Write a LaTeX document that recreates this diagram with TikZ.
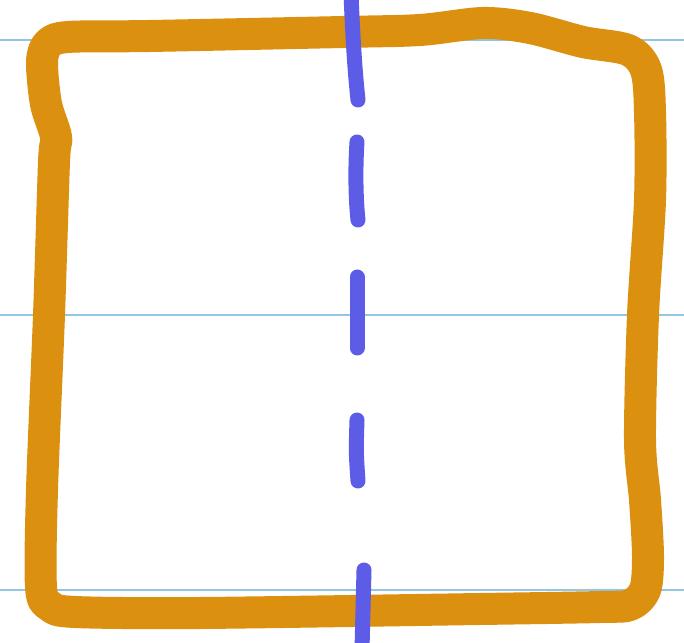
\documentclass[tikz,border=0pt]{standalone}
\usepackage{tikz}
\usepackage{xcolor}
\definecolor{paper}{HTML}{FFFFFF}
\definecolor{ruleblue}{HTML}{93C6E2}
\definecolor{markerorange}{HTML}{DB910F}
\definecolor{penblue}{HTML}{5C5CE6}
\tikzset{
  ruleline/.style={draw=ruleblue, line width=2pt},
  markerbox/.style={draw=markerorange, line width=32pt, line join=round},
  axisdash/.style={draw=penblue, line width=15pt, line cap=round}
}
\begin{document}
\begin{tikzpicture}[x=1pt,y=1pt]
  \useasboundingbox[fill=paper] (0,0) rectangle (684,642);
  % ruled paper lines
  \foreach \yy in {602,327,52}
    \draw[ruleline] (0,\yy) -- (684,\yy);
  % hand drawn square
  \draw[markerbox] plot[smooth cycle, tension=0.5] coordinates {
    (150,606) (343,610) (420,612) (483,619) (530,614) (583,600)
    (628,592) (646,572) (650,530) (650,442) (643,327) (640,202)
    (645,142) (648,85) (645,52) (630,37) (600,35) (480,33)
    (200,29) (75,30) (50,36) (41,55) (42,152) (49,327)
    (54,480) (56,505) (46,538) (42,580) (48,598) (68,605)};
  % symmetry axis, dashed by hand
  \coordinate (d1a) at (351,648);
  \coordinate (d1b) at (358,542);
  \coordinate (d2a) at (357,500);
  \coordinate (d2b) at (358,422);
  \coordinate (d3a) at (357,365);
  \coordinate (d3b) at (357,294);
  \coordinate (d4a) at (357,222);
  \coordinate (d4b) at (358,161);
  \coordinate (d5a) at (364,72);
  \coordinate (d5b) at (362,-8);
  \draw[axisdash] (d1a) .. controls (353,600) and (355,570) .. (d1b);
  \draw[axisdash] (d2a) .. controls (355,470) and (356,440) .. (d2b);
  \draw[axisdash] (d3a) -- (d3b);
  \draw[axisdash] (d4a) .. controls (356,190) .. (d4b);
  \draw[axisdash] (d5a) -- (d5b);
\end{tikzpicture}
\end{document}
